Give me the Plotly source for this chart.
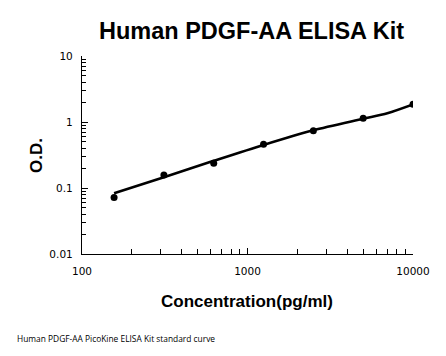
import plotly.graph_objects as go

conc = [156.25, 312.5, 625, 1250, 2500, 5000, 10000]
od = [0.072, 0.157, 0.237, 0.459, 0.74, 1.14, 1.85]

curve_x = [156.25, 312.5, 625, 1250, 2500, 5000, 7000, 10000]
curve_y = [0.083, 0.146, 0.258, 0.45, 0.75, 1.12, 1.36, 1.85]

x_ticks = [100, 1000, 10000]
x_tick_text = ["100", "1000", "10000"]
y_ticks = [0.01, 0.1, 1, 10]
y_tick_text = ["0.01", "0.1", "1", "10"]

fig = go.Figure()
fig.add_trace(go.Scatter(x=curve_x, y=curve_y, mode="lines",
                         line=dict(color="black", width=2.6, shape="spline", smoothing=0.8),
                         hoverinfo="skip", showlegend=False))
fig.add_trace(go.Scatter(x=conc, y=od, mode="markers",
                         marker=dict(color="black", size=7), showlegend=False))

tickfont = dict(family="DejaVu Sans", size=10.5, color="black")
fig.update_xaxes(type="log", range=[2, 4], tickvals=x_ticks, ticktext=x_tick_text,
                 ticks="inside", ticklen=6, tickcolor="black", showline=True,
                 linecolor="black", linewidth=1.3, showgrid=False, zeroline=False,
                 tickfont=tickfont, mirror=False, ticklabelstandoff=7,
                 minor=dict(ticks="inside", ticklen=5, tickcolor="black",
                            tickvals=[200, 300, 400, 500, 600, 700, 800, 900,
                                      2000, 3000, 4000, 5000, 6000, 7000, 8000, 9000],
                            showgrid=False))
fig.update_yaxes(type="log", range=[-2, 1], tickvals=y_ticks, ticktext=y_tick_text,
                 ticks="inside", ticklen=6, tickcolor="black", showline=True,
                 linecolor="black", linewidth=1.3, showgrid=False, zeroline=False,
                 tickfont=tickfont, ticklabelstandoff=6,
                 minor=dict(ticks="inside", ticklen=4, tickcolor="black",
                            tickvals=[m * 10 ** e for e in (-2, -1, 0) for m in range(2, 10)],
                            showgrid=False))

fig.update_layout(
    width=446, height=356,
    margin=dict(l=82, r=33, t=56, b=102),
    plot_bgcolor="white", paper_bgcolor="white",
    annotations=[
        dict(text="<b>Human PDGF-AA ELISA Kit</b>", x=251, y=31, showarrow=False,
             font=dict(family="Liberation Sans", size=23.5, color="black"),
             xanchor="center", yanchor="middle"),
        dict(text="<b>Concentration(pg/ml)</b>", x=247, y=301, showarrow=False,
             font=dict(family="Liberation Sans", size=17, color="black"),
             xanchor="center", yanchor="middle"),
        dict(text="<b>O.D.</b>", x=36, y=156, showarrow=False, textangle=-90,
             font=dict(family="Liberation Sans", size=17, color="black"),
             xanchor="center", yanchor="middle"),
        dict(text="Human PDGF-AA PicoKine ELISA Kit standard curve", x=15, y=338,
             showarrow=False, font=dict(family="Open Sans", size=8.4, color="black"),
             xanchor="left", yanchor="middle"),
    ],
)

# convert pixel positions of annotations to paper coordinates
W, H = 446, 356
l, r, t, b = 82, 33, 56, 102
pw, ph = W - l - r, H - t - b
for a in fig.layout.annotations:
    px, py = a.x, a.y
    a.xref = "paper"
    a.yref = "paper"
    a.x = (px - l) / pw
    a.y = 1 - (py - t) / ph

fig.write_html("out.html", config={"displayModeBar": False},
               post_script="document.body.style.margin='0';")
